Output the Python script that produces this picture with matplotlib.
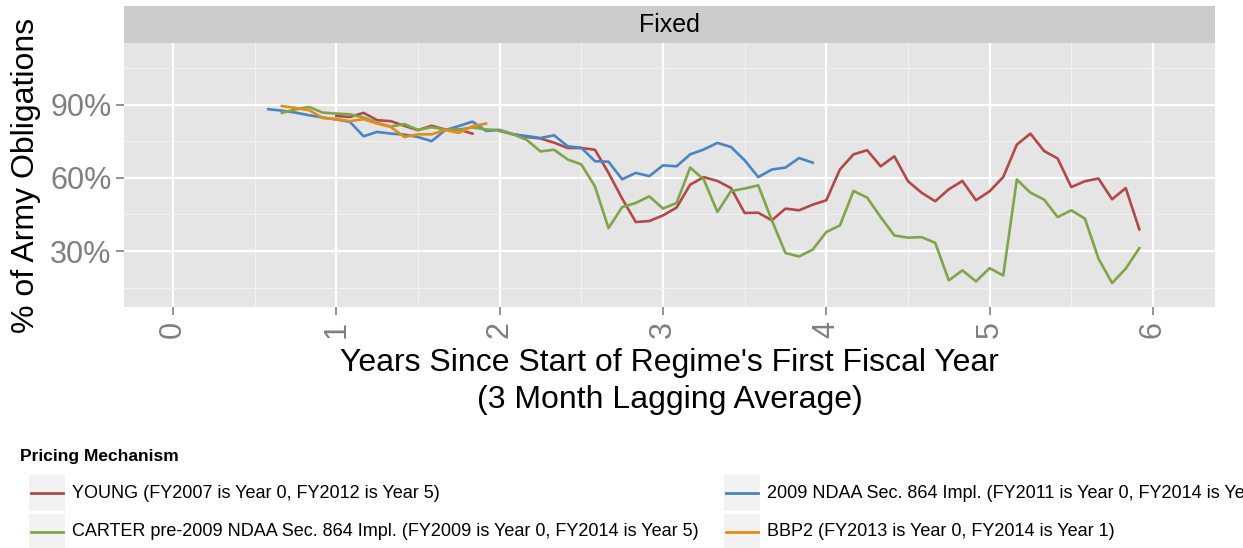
import numpy as np
import matplotlib
matplotlib.use("Agg")
import matplotlib.pyplot as plt
from matplotlib.patches import Rectangle
from matplotlib.lines import Line2D

plt.rcParams['font.family'] = ['Liberation Sans', 'DejaVu Sans']

# series names and colours
series_names = [
    "YOUNG (FY2007 is Year 0, FY2012 is Year 5)",
    "2009 NDAA Sec. 864 Impl. (FY2011 is Year 0, FY2014 is Year 3)",
    "CARTER pre-2009 NDAA Sec. 864 Impl. (FY2009 is Year 0, FY2014 is Year 5)",
    "BBP2 (FY2013 is Year 0, FY2014 is Year 1)",
]
series_colors = ["#B34848", "#4A84C4", "#7EA648", "#E68C14"]

# monthly values (% of army obligations), first month index for each series
young_start = 12
young = [85.3, 84.9, 86.6, 83.6, 83.2, 81.3, 79.5, 81.3, 79.8, 79.8, 78.1,
         np.nan,
         79.2, 77.8, 76.7, 76.1, 74.4, 72.2, 72.2, 71.5, 62.0, 51.5, 41.9, 42.3,
         44.6, 47.8, 57.2, 60.3, 58.7, 55.8, 45.6, 45.7, 42.6, 47.4, 46.7, 49.0,
         50.8, 63.4, 69.6, 71.3, 64.7, 68.8, 58.6, 53.9, 50.4, 55.3, 58.7, 50.8,
         54.5, 60.3, 73.6, 78.1, 71.0, 67.9, 56.2, 58.6, 59.7, 51.2, 55.8, 38.9]

ndaa_start = 7
ndaa = [88.1, 87.5, 86.7, 85.6, 84.7, 83.9, 82.9, 77.0, 78.8, 78.1, 77.7,
        76.7, 75.0, 79.5, 81.2, 83.0, 79.2, 79.6, 77.8, 77.1, 76.3, 77.4,
        72.9, 72.3, 66.8, 66.6, 59.4, 62.0, 60.7, 65.1, 64.7, 69.6, 71.6,
        74.3, 72.6, 67.2, 60.3, 63.4, 64.2, 68.1, 66.2]

carter_start = 8
carter = [86.6, 88.0, 89.0, 86.7, 86.3, 86.0, 84.7, 82.5, 81.0, 82.0, 79.6,
          80.7, 79.8, 79.8, 80.6, 79.8,
          79.5, 77.8, 75.5, 70.8, 71.5, 67.5, 65.5, 56.5, 39.4, 48.0, 49.7, 52.4,
          47.4, 49.7, 64.2, 59.3, 46.0, 54.6, 55.6, 56.9, 42.6, 29.2, 27.8, 30.6,
          37.8, 40.5, 54.6, 51.9, 43.9, 36.4, 35.5, 35.7, 33.4, 18.0, 22.1, 17.6,
          23.0, 20.0, 59.3, 53.9, 51.1, 43.9, 46.7, 43.3, 26.9, 16.9, 22.8, 31.2]

bbp2_start = 8
bbp2 = [89.4, 88.6, 87.7, 84.5, 84.0, 83.2, 84.0, 82.2, 80.8, 76.7, 77.8,
        77.8, 79.6, 78.4, 81.1, 82.2]

x_ticks = [0, 1, 2, 3, 4, 5, 6]
y_ticks = [30, 60, 90]
y_tick_labels = ["30%", "60%", "90%"]


def years(start, vals):
    return (start + np.arange(len(vals))) / 12.0


W, H = 1243, 548
fig = plt.figure(figsize=(W / 100, H / 100), dpi=100)

px_l, px_r, px_t, px_b = 124, 1215, 43, 307
ax = fig.add_axes([px_l / W, 1 - px_b / H, (px_r - px_l) / W, (px_b - px_t) / H])
ax.set_facecolor("#E5E5E5")
for s in ax.spines.values():
    s.set_visible(False)

ax.set_xlim(-0.30, 6.38)
ax.set_ylim(7.1, 115.2)
ax.set_xticks(x_ticks)
ax.set_xticks([0.5, 1.5, 2.5, 3.5, 4.5, 5.5], minor=True)
ax.set_yticks(y_ticks)
ax.set_yticklabels(y_tick_labels)
ax.set_yticks([15, 45, 75, 105], minor=True)
ax.grid(which="major", color="white", lw=1.6)
ax.grid(which="minor", color="#F2F2F2", lw=0.8)
ax.set_axisbelow(True)
ax.tick_params(which="major", length=6, width=1.2, color="#7F7F7F",
               labelcolor="#7F7F7F", labelsize=22, pad=3)
ax.tick_params(which="minor", length=0)
ax.tick_params(axis="x", labelrotation=90, pad=4)

data = [(young_start, young), (ndaa_start, ndaa),
        (carter_start, carter), (bbp2_start, bbp2)]
for (st, vals), c in zip(data, series_colors):
    ax.plot(years(st, vals), vals, color=c, lw=1.9)

ax.set_ylabel("% of Army Obligations", fontsize=23)
ax.yaxis.set_label_coords((41 - px_l) / (px_r - px_l), 0.5)
ax.set_xlabel("Years Since Start of Regime's First Fiscal Year\n(3 Month Lagging Average)",
              fontsize=23, linespacing=1.3)
ax.xaxis.set_label_coords(0.5, -(348 - px_b) / (px_b - px_t))

# facet strip
sax = fig.add_axes([px_l / W, 1 - px_t / H, (px_r - px_l) / W, (px_t - 6) / H])
sax.set_facecolor("#CCCCCC")
sax.set_xticks([])
sax.set_yticks([])
for s in sax.spines.values():
    s.set_visible(False)
sax.text(0.5, 0.5, "Fixed", ha="center", va="center", fontsize=18, transform=sax.transAxes)

# legend
fig.text(20 / W, 1 - 457 / H, "Pricing Mechanism", fontsize=12.5, fontweight="bold",
         va="center", ha="left")
key_cols = [29, 724]
rows = [493, 532]
order = [(0, 0), (1, 0), (0, 1), (1, 1)]  # (col, row) per series
for (col, row), name, c in zip(order, series_names, series_colors):
    kx, ky = key_cols[col], rows[row]
    fig.add_artist(Rectangle((kx / W, 1 - (ky + 18) / H), 36 / W, 36 / H,
                             transform=fig.transFigure, facecolor="#F2F2F2",
                             edgecolor="none"))
    fig.add_artist(Line2D([(kx + 2) / W, (kx + 34) / W], [1 - ky / H, 1 - ky / H],
                          transform=fig.transFigure, color=c, lw=2))
    fig.text((kx + 43) / W, 1 - ky / H, name, fontsize=13, va="center", ha="left")

fig.savefig("out.png", dpi=100)
